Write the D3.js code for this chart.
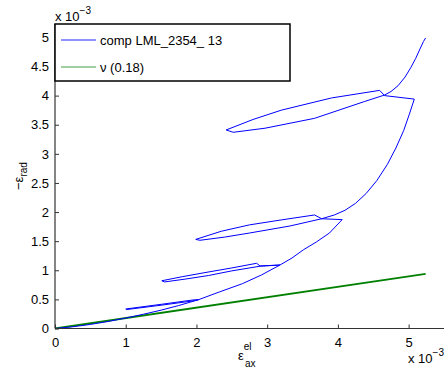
<!DOCTYPE html>
<html><head><meta charset="utf-8">
<script src="https://cdn.jsdelivr.net/npm/d3@7"></script>
<style>body{margin:0;background:#fff}svg{display:block}text{font-family:"Liberation Sans",Arial,sans-serif;fill:#000}</style>
</head><body><svg id="c" width="445" height="376"></svg>
<script>
// data (units of 1e-3)
const xTicks = [0,1,2,3,4,5];
const yTicks = [0,0.5,1,1.5,2,2.5,3,3.5,4,4.5,5];
const compAx = [0,0.25,0.5,0.75,1.0,1.25,1.5,1.75,2.03,
  1.95,1.5,1.0,1.01,1.5,1.97,2.03,
  2.33,2.65,2.92,3.18,
  2.9,2.85,2.5,2.12,1.8,1.51,1.55,1.85,2.17,2.5,2.9,3.18,
  3.35,3.51,3.7,3.88,4.06,
  3.77,3.67,3.2,2.75,2.35,1.99,2.05,2.4,2.75,3.32,3.77,
  3.95,4.1,4.25,4.4,4.55,4.7,4.82,4.93,5.01,5.08,
  4.66,4.59,3.91,3.2,2.8,2.42,2.52,2.97,3.67,4.38,4.66,
  4.75,4.85,4.95,5.03,5.1,5.16,5.21,5.24];
const compRad = [0,0.03,0.07,0.12,0.18,0.245,0.315,0.395,0.495,
  0.49,0.415,0.335,0.325,0.40,0.477,0.495,
  0.63,0.77,0.92,1.09,
  1.075,1.12,1.04,0.96,0.89,0.82,0.80,0.85,0.91,0.99,1.07,1.09,
  1.21,1.35,1.49,1.64,1.87,
  1.885,1.95,1.865,1.78,1.67,1.53,1.515,1.57,1.64,1.76,1.885,
  1.95,2.03,2.15,2.32,2.54,2.82,3.1,3.4,3.68,3.94,
  4.0,4.09,3.96,3.75,3.59,3.41,3.37,3.44,3.61,3.90,4.01,
  4.07,4.17,4.32,4.48,4.64,4.8,4.93,4.99];
const nuAx = [0,5.24];
const nuRad = [0,0.94];
const legendLabels = ["comp LML_2354_ 13","\u03bd (0.18)"];
const colors = ["#0000ff","#008000"];

const svg = d3.select("#c");
const L=55, R=444, T=24, B=328.5;
const x = d3.scaleLinear().domain([0,5.5]).range([L,R]);
const y = d3.scaleLinear().domain([0,5.23]).range([B,T]);

const line = d3.line().x(d=>x(d[0])).y(d=>y(d[1]));
const comp = compAx.map((v,i)=>[v,compRad[i]]);
const nu = nuAx.map((v,i)=>[v,nuRad[i]]);

svg.append("path").attr("d",line(nu)).attr("fill","none").attr("stroke",colors[1]).attr("stroke-width",1.8);
svg.append("path").attr("d",line(comp)).attr("fill","none").attr("stroke",colors[0]).attr("stroke-width",1).attr("stroke-linejoin","round");

// axes (MATLAB style: inward ticks)
const xa = svg.append("g").attr("transform",`translate(0,${B})`)
  .call(d3.axisBottom(x).tickValues(xTicks).tickSize(-4).tickSizeOuter(0).tickPadding(9).tickFormat(d3.format("")));
const ya = svg.append("g").attr("transform",`translate(${L},0)`)
  .call(d3.axisLeft(y).tickValues(yTicks).tickSize(-4).tickSizeOuter(0).tickPadding(6).tickFormat(d3.format("")));
[xa,ya].forEach(g=>{
  g.select(".domain").attr("stroke","#333").attr("stroke-width",1.2);
  g.selectAll(".tick line").attr("stroke","#333");
  g.selectAll("text").attr("font-size",13).attr("fill","#000").attr("font-family","Liberation Sans, Arial, sans-serif");
});
xa.select(".domain").attr("d",`M${L},0H${R}`);
ya.select(".domain").attr("d",`M0,${B}V${T}`);

// exponent labels
function expo(xp,yp){
  const t = svg.append("text").attr("x",xp).attr("y",yp).attr("font-size",13);
  t.append("tspan").text("x 10");
  t.append("tspan").attr("dy",-7).attr("font-size",10).text("\u22123");
}
expo(55,21);
expo(408,363);

// x label
const xl = svg.append("text").attr("x",238).attr("y",360).attr("font-size",13);
xl.append("tspan").text("\u03b5");
xl.append("tspan").attr("font-size",10).attr("dy",-10).text("el");
xl.append("tspan").attr("font-size",10).attr("x",245).attr("dy",17).text("ax");

// y label
const yl = svg.append("text").attr("transform","translate(23,190) rotate(-90)").attr("font-size",13);
yl.append("tspan").text("\u2212\u03b5");
yl.append("tspan").attr("font-size",10).attr("dy",4).text("rad");

// legend
const lg = svg.append("g");
lg.append("rect").attr("x",55).attr("y",24).attr("width",235).attr("height",57)
  .attr("fill","#fff").attr("stroke","#000").attr("stroke-width",1.5);
legendLabels.forEach((lab,i)=>{
  const yy = 40 + i*27;
  lg.append("line").attr("x1",61).attr("x2",96).attr("y1",yy).attr("y2",yy).attr("stroke",colors[i]).attr("stroke-width",1).attr("opacity",i?0.75:0.85);
  lg.append("text").attr("x",100).attr("y",yy+5).attr("font-size",13).text(lab);
});
</script></body></html>
